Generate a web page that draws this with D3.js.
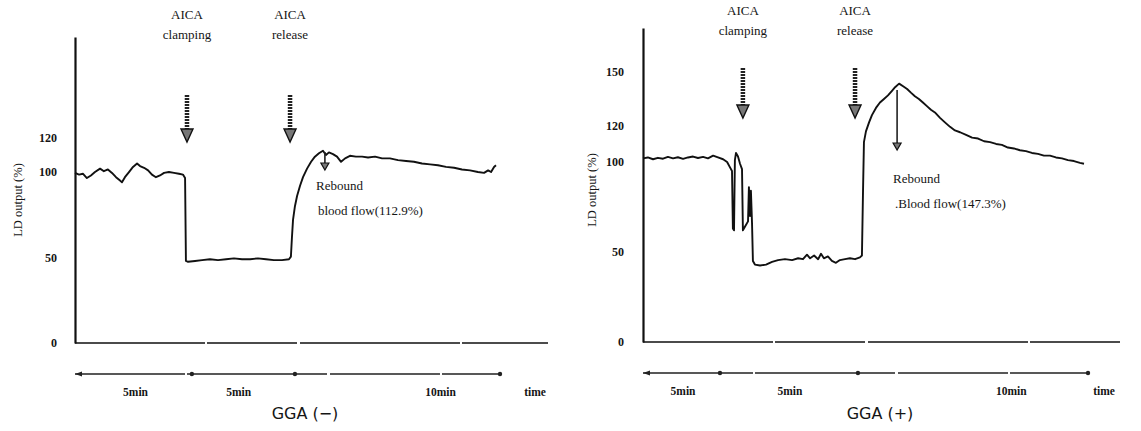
<!DOCTYPE html>
<html>
<head>
<meta charset="utf-8">
<script src="https://cdn.jsdelivr.net/npm/d3@7/dist/d3.min.js"></script>
<style>
  body { margin: 0; background: #fff; }
  text { font-family: "Liberation Serif", "DejaVu Serif", serif; fill: #151515; }
  .gga { font-family: "DejaVu Sans", "Noto Sans", sans-serif; }
</style>
</head>
<body>
<div id="chart"></div>
<script>
// LD output traces, time in minutes, flow in % of baseline
// GGA (-)
const leftTime = [0, 0.19, 0.38, 0.56, 0.75, 0.94, 1.18, 1.36, 1.55, 1.74, 1.93, 2.12, 2.21, 2.35, 2.54, 2.73, 2.92, 3.06, 3.25, 3.44,
  3.62, 3.81, 4.0, 4.19, 4.42, 4.66, 4.89, 5.08, 5.18, 5.22, 5.32, 5.65, 5.98, 6.35, 6.73, 7.11, 7.48, 7.86, 8.24, 8.61,
  8.99, 9.36, 9.74, 10.07, 10.16, 10.21, 10.26, 10.35, 10.45, 10.59, 10.73, 10.92, 11.11, 11.29, 11.48, 11.67, 11.81, 11.95, 12.14, 12.33,
  12.52, 12.71, 12.94, 13.22, 13.51, 13.79, 14.12, 14.45, 14.82, 15.2, 15.58, 15.95, 16.33, 16.71, 17.08, 17.46, 17.84, 18.21, 18.59, 18.96,
  19.25, 19.44, 19.58, 19.72, 19.81];
const leftFlow = [99.5, 98.5, 99, 96.5, 98, 100, 102, 100.5, 101.5, 99.5, 97, 95, 94, 97, 100, 103, 105, 103.5, 102.5, 101,
  98.5, 97, 98, 99.5, 100, 99.5, 99, 98.5, 96.5, 48, 47.5, 48, 48.5, 49, 48.5, 49, 49.5, 49, 49, 49.5,
  49, 48.5, 48.5, 49, 50.5, 62, 72, 80, 86, 92, 97, 102, 106, 109, 111, 112.5, 110, 111.5, 110.5, 109,
  106, 108, 109.5, 109, 109, 108.5, 109, 108, 108, 107, 106.5, 106, 105, 104.5, 104, 103, 102.5, 101.5, 101, 100,
  99.5, 101, 100, 103, 104];

// GGA (+)
const rightTime = [0, 0.22, 0.45, 0.67, 0.9, 1.12, 1.35, 1.57, 1.8, 2.02, 2.25, 2.47, 2.7, 2.92, 3.15, 3.37, 3.6, 3.78, 3.91, 4.0,
  4.04, 4.09, 4.13, 4.18, 4.27, 4.36, 4.45, 4.49, 4.58, 4.72, 4.76, 4.81, 4.85, 4.9, 4.94, 5.03, 5.26, 5.53, 5.8, 6.07,
  6.38, 6.7, 6.97, 7.19, 7.37, 7.51, 7.69, 7.87, 8.0, 8.13, 8.31, 8.49, 8.67, 8.85, 9.08, 9.3, 9.53, 9.75, 9.84, 9.89,
  9.93, 10.02, 10.16, 10.29, 10.47, 10.65, 10.83, 11.01, 11.19, 11.33, 11.51, 11.69, 11.87, 12.04, 12.22, 12.4, 12.58, 12.76, 12.94, 13.12,
  13.35, 13.57, 13.8, 14.02, 14.25, 14.52, 14.79, 15.06, 15.33, 15.6, 15.87, 16.13, 16.4, 16.67, 16.94, 17.21, 17.48, 17.75, 18.02, 18.29,
  18.56, 18.83, 19.1, 19.37, 19.64, 19.82];
const rightFlow = [102, 102.5, 101.5, 102.3, 101.8, 102.8, 102, 102.6, 101.7, 102.5, 103, 102.2, 102.8, 102, 103.5, 102.5, 101.5, 100, 97, 95,
  63, 62, 101, 105, 103, 99, 96, 62, 64, 67, 86, 70, 84, 66, 45, 43, 42.5, 43, 44.5, 45.5,
  46, 45.5, 46.5, 46, 48.5, 46.5, 48, 46, 49, 46.5, 47.5, 45, 44, 45.5, 46, 46.5, 46, 47, 48, 85,
  111, 117, 122, 126, 130, 133, 135, 137, 139.5, 141.5, 143.5, 142, 140.5, 138.5, 136.5, 135, 133, 131, 129, 127.5,
  124.5, 122, 119.5, 117.5, 116.5, 115, 113.5, 113, 111.5, 111, 110, 109.5, 108, 107.5, 106.5, 106, 105, 104.5, 103.5, 103.5,
  102.5, 102, 101, 100.5, 99.5, 99];

const yTicksLeft = [0, 50, 100, 120];
const yTicksRight = [0, 50, 100, 120, 150];
const timeLabels = ['5min', '5min', '10min', 'time'];
const timeMarksLeft = [0, 5.5, 10.35, 20];
const timeMarksRight = [0, 3.46, 9.66, 20];
const labelTimesLeft = [2.85, 7.7, 17.2, 21.65];
const labelTimesRight = [1.8, 6.6, 16.55, 20.72];
const eventNames = [['AICA', 'clamping'], ['AICA', 'release']];
const eventTimesLeft = [5.27, 10.12];
const eventTimesRight = [4.49, 9.53];
const reboundLeft = {t: 11.76, text: ['Rebound', 'blood flow(112.9%)']};
const reboundRight = {t: 11.42, text: ['Rebound', '.Blood flow(147.3%)']};

const width = 1141, height = 431;
const svg = d3.select('#chart').append('svg')
    .attr('width', width)
    .attr('height', height);

drawPanel({
    time: leftTime, flow: leftFlow, yTicks: yTicksLeft,
    marks: timeMarksLeft, labelTimes: labelTimesLeft, events: eventTimesLeft, rebound: reboundLeft,
    xRange: [75, 500], yDomain: [0, 179], yRange: [343, 37], baseEnd: 22.26,
    arrowY: [95, 142], rebArrow: [152, 170], rebText: [316, 190, 215], timeY: 374,
    yTitle: [18, 200], tickX: 57, title: 'GGA (\u2212)', titleX: 305, eventTextY: [19, 39]
});
drawPanel({
    time: rightTime, flow: rightFlow, yTicks: yTicksRight,
    marks: timeMarksRight, labelTimes: labelTimesRight, events: eventTimesRight, rebound: reboundRight,
    xRange: [643, 1088], yDomain: [0, 174.4], yRange: [342, 28], baseEnd: 21.44,
    arrowY: [68, 118], rebArrow: [90, 150], rebText: [893, 183, 208], timeY: 373,
    yTitle: [592, 190], tickX: 624, title: 'GGA (+)', titleX: 880, eventTextY: [15, 35]
});

function drawPanel(p) {
    const x = d3.scaleLinear().domain([0, 20]).range(p.xRange);
    const y = d3.scaleLinear().domain(p.yDomain).range(p.yRange);
    const g = svg.append('g');

    // y axis, labels only at the tick values
    const yAxis = g.append('g')
        .attr('transform', `translate(${x(0)},0)`)
        .call(d3.axisLeft(y).tickValues(p.yTicks).tickSize(0).tickSizeOuter(0)
            .tickPadding(x(0) - p.tickX).tickFormat(d3.format('d')));
    yAxis.select('.domain').attr('stroke', '#111').attr('stroke-width', 2.2);
    yAxis.selectAll('text')
        .style('font-family', '"Liberation Serif", serif')
        .style('font-size', '12px')
        .style('font-weight', 'bold')
        .attr('fill', '#222');

    g.append('text')
        .attr('transform', `translate(${p.yTitle[0]},${p.yTitle[1]}) rotate(-90)`)
        .attr('text-anchor', 'middle')
        .attr('dy', '0.35em')
        .style('font-size', '12.5px')
        .text('LD output (%)');

    // zero line
    g.append('line')
        .attr('x1', x(0)).attr('x2', x(p.baseEnd))
        .attr('y1', y(0)).attr('y2', y(0))
        .attr('stroke', '#111').attr('stroke-width', 1.6)
        .attr('stroke-dasharray', '130,2,90,3,160,2');

    // trace
    const line = d3.line().x((d, i) => x(p.time[i])).y(d => y(d));
    g.append('path')
        .datum(p.flow)
        .attr('d', line)
        .attr('fill', 'none')
        .attr('stroke', '#111')
        .attr('stroke-width', 1.9)
        .attr('stroke-linejoin', 'round');

    // time scale arrow
    const ty = p.timeY;
    g.append('line')
        .attr('x1', x(p.marks[0])).attr('x2', x(p.marks[p.marks.length - 1]))
        .attr('y1', ty).attr('y2', ty)
        .attr('stroke', '#222').attr('stroke-width', 1.4)
        .attr('stroke-dasharray', '110,2,140,3');
    g.append('path')
        .attr('d', `M${x(p.marks[0])},${ty} l7,-2.5 l0,5 z`)
        .attr('fill', '#222');
    g.selectAll('.mark')
        .data(p.marks.slice(1))
        .enter()
        .append('circle')
        .attr('cx', d => x(d)).attr('cy', ty)
        .attr('r', 2.2).attr('fill', '#222');
    g.selectAll('.tlabel')
        .data(timeLabels)
        .enter()
        .append('text')
        .attr('x', (d, i) => x(p.labelTimes[i]))
        .attr('y', ty + 22)
        .attr('text-anchor', 'middle')
        .style('font-size', '11.5px')
        .style('font-weight', 'bold')
        .text(d => d);

    // AICA clamping / release arrows
    p.events.forEach((t, i) => {
        const ax = x(t);
        eventNames[i].forEach((s, j) => {
            g.append('text')
                .attr('x', ax).attr('y', p.eventTextY[j])
                .attr('text-anchor', 'middle')
                .style('font-size', '13px')
                .text(s);
        });
        g.append('line')
            .attr('x1', ax).attr('x2', ax)
            .attr('y1', p.arrowY[0]).attr('y2', p.arrowY[1] - 12)
            .attr('stroke', '#222').attr('stroke-width', 4.5)
            .attr('stroke-dasharray', '2,1');
        g.append('path')
            .attr('d', `M${ax - 6},${p.arrowY[1] - 13} L${ax + 6},${p.arrowY[1] - 13} L${ax},${p.arrowY[1]} Z`)
            .attr('fill', '#777').attr('stroke', '#111').attr('stroke-width', 1.4);
    });

    // rebound marker
    const rx = x(p.rebound.t);
    g.append('line')
        .attr('x1', rx).attr('x2', rx)
        .attr('y1', p.rebArrow[0]).attr('y2', p.rebArrow[1] - 6)
        .attr('stroke', '#222').attr('stroke-width', 1.6);
    g.append('path')
        .attr('d', `M${rx - 4},${p.rebArrow[1] - 7} L${rx + 4},${p.rebArrow[1] - 7} L${rx},${p.rebArrow[1]} Z`)
        .attr('fill', '#777').attr('stroke', '#111').attr('stroke-width', 1.2);
    p.rebound.text.forEach((s, j) => {
        g.append('text')
            .attr('x', p.rebText[0] + (j ? 2 : 0))
            .attr('y', p.rebText[1 + j])
            .style('font-size', '13px')
            .text(s);
    });

    g.append('text')
        .attr('class', 'gga')
        .attr('x', p.titleX).attr('y', 419)
        .attr('text-anchor', 'middle')
        .style('font-size', '16px')
        .text(p.title);
}
</script>
</body>
</html>
